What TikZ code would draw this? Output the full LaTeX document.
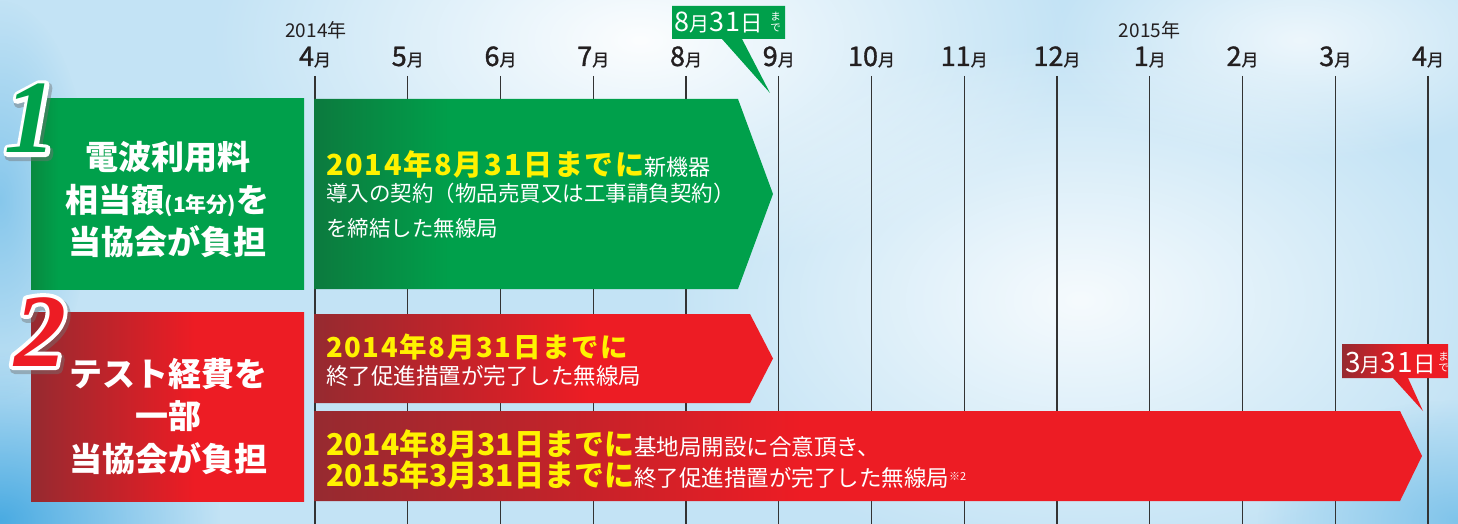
\documentclass[tikz,border=0pt]{standalone}
\usepackage{fontspec}
\setmainfont{Noto Sans CJK JP}
\newfontfamily\yfont[LetterSpace=6]{Noto Sans CJK JP}
\newfontfamily\mfont[FakeBold=1.2]{Noto Sans CJK JP}
\newfontfamily\cfont[LetterSpace=5]{Noto Sans CJK JP}
\newfontfamily\numfont{Liberation Serif}
\usetikzlibrary{fadings}
\tikzfading[name=myfade, inner color=transparent!0, outer color=transparent!100]
\definecolor{bgblue}{HTML}{C3E3F5}
\definecolor{deepblue}{HTML}{3DA5E0}
\definecolor{gmain}{HTML}{00A04B}
\definecolor{gdark}{HTML}{0C7A3E}
\definecolor{gbox}{HTML}{08893F}
\definecolor{rmain}{HTML}{ED1C24}
\definecolor{rdark}{HTML}{962A30}
\definecolor{ylw}{HTML}{FFF200}
\definecolor{lgray}{HTML}{333333}
\definecolor{ink}{HTML}{231F20}
\pgfdeclarehorizontalshading{gshade}{100bp}{color(0bp)=(gdark); color(25bp)=(gdark); color(40bp)=(gmain); color(100bp)=(gmain)}
\pgfdeclarehorizontalshading{gshadebox}{100bp}{color(0bp)=(gbox); color(25bp)=(gbox); color(30bp)=(gmain); color(100bp)=(gmain)}
\pgfdeclarehorizontalshading{rshadeA}{100bp}{color(0bp)=(rdark); color(25bp)=(rdark); color(55bp)=(rmain); color(100bp)=(rmain)}
\pgfdeclarehorizontalshading{rshadeB}{100bp}{color(0bp)=(rdark); color(25bp)=(rdark); color(47bp)=(rmain); color(100bp)=(rmain)}
\tikzset{
  mline/.style={draw=lgray, line width=1.3pt},
  monthlbl/.style={anchor=base, inner sep=0, text=ink},
  yearlbl/.style={anchor=base, inner sep=0, text=ink, font=\fontsize{19}{19}\selectfont},
  boxtext/.style={text=white, align=center, inner sep=0, font=\bfseries\fontsize{33}{42.5}\selectfont},
  bartext/.style={anchor=base west, inner sep=0, text=white},
  numtxt/.style={anchor=base, inner sep=0, font=\numfont\bfseries\itshape\fontsize{104}{104}\selectfont},
  mademade/.style={text=white, align=center, inner sep=0, font=\fontsize{10.5}{11}\selectfont},
}
\newcommand{\yel}[2]{{\yfont\bfseries\fontsize{#1}{#1}\selectfont\color{ylw}#2}}
\newcommand{\yelc}[2]{{\bfseries\fontsize{#1}{#1}\selectfont\color{ylw}#2}}
\newcommand{\wht}[2]{{\fontsize{#1}{#1}\selectfont #2}}
\newcommand{\cw}[2]{{\cfont\fontsize{#1}{#1}\selectfont #2}}
\newcommand{\outl}[3]{\special{pdf:literal direct q 2 Tr #1 w 1 j #2 RG}#3\special{pdf:literal direct Q}}
\begin{document}
\begin{tikzpicture}[x=1pt,y=-1pt]
\useasboundingbox (0,0) rectangle (1458,524);
% background
\fill[bgblue] (0,0) rectangle (1458,524);
\fill[white, path fading=myfade, opacity=0.95] (640,40) ellipse (430 and 230);
\fill[white, path fading=myfade, opacity=0.85] (1080,300) ellipse (420 and 260);
\fill[white, path fading=myfade, opacity=0.7] (1300,40) ellipse (250 and 120);
\fill[deepblue, path fading=myfade, opacity=0.9] (0,520) ellipse (220 and 170);
\fill[deepblue, path fading=myfade, opacity=0.45] (0,200) ellipse (90 and 200);
\fill[deepblue, path fading=myfade, opacity=0.5] (1458,520) ellipse (200 and 120);
% month lines and labels
\foreach \m [count=\i from 0] in {4,5,6,7,8,9,10,11,12,1,2,3,4}{
  \coordinate (top\i) at (315+92.75*\i,76);
  \coordinate (bot\i) at (315+92.75*\i,524);
  \draw[mline] (top\i) -- (bot\i);
  \node[monthlbl] (m\i) at (315+92.75*\i,66) {{\mfont\fontsize{27}{27}\selectfont\m}{\mfont\fontsize{17}{17}\selectfont 月}};
}
\node[yearlbl] (y2014) at (316,38) {2014年};
\node[yearlbl] (y2015) at (1149.5,38) {2015年};
% left boxes
\path[shade, shading=gshadebox] (31,99) rectangle (304,289);
\path[shade, shading=rshadeA] (31,312) rectangle (304,501);
% bars
\path[shade, shading=gshade] (314,99) -- (738,99) -- (773,194) -- (738,289) -- (314,289) -- cycle;
\path[shade, shading=rshadeA] (314,314) -- (750,314) -- (773,358.5) -- (750,403) -- (314,403) -- cycle;
\path[shade, shading=rshadeB] (314,411) -- (1400,411) -- (1422,456) -- (1400,501) -- (314,501) -- cycle;
% callouts
\fill[gmain] (672,6) -- (785,6) -- (785,39) -- (742,39) -- (770,93) -- (722,39) -- (672,39) -- cycle;
\node[bartext] (c1) at (674,32) {\cw{27}{8}\cw{20}{月}\cw{27}{31}\cw{22.5}{日}};
\node[mademade] (c1m) at (775.5,22) {ま\\で};
\path[shade, shading=rshadeA] (1342,344) -- (1448,344) -- (1448,378) -- (1408,378) -- (1423,411) -- (1393,378) -- (1342,378) -- cycle;
\node[bartext] (c2) at (1345,372) {\cw{28}{3}\cw{20}{月}\cw{28}{31}\cw{22.5}{日}};
\node[mademade] (c2m) at (1443.5,362) {ま\\で};
% box texts
\node[boxtext] (t1) at (167.5,200) {電波利用料\\相当額{\fontsize{21}{21}\selectfont(1年分)}を\\当協会が負担};
\node[boxtext] (t2) at (168,416.5) {テスト経費を\\一部\\当協会が負担};
% bar texts
\node[bartext] (b1a) at (326,175) {\yel{29}{2014年8月31日までに}\wht{22}{新機器}};
\node[bartext] (b1b) at (326,201) {\wht{21.5}{導入の契約（物品売買又は工事請負契約）}};
\node[bartext] (b1c) at (326,236) {\wht{21.5}{を締結した無線局}};
\node[bartext] (b2a) at (326,357) {\yel{27.5}{2014年8月31日までに}};
\node[bartext] (b2b) at (326,384) {\wht{22.5}{終了促進措置が完了した無線局}};
\node[bartext] (b3a) at (326,455) {\yelc{30}{2014年8月31日までに}\wht{22.5}{基地局開設に合意頂き、}};
\node[bartext] (b3b) at (326,486) {\yelc{30}{2015年3月31日までに}\wht{22.5}{終了促進措置が完了した無線局}\raisebox{6pt}{\wht{11}{※2}}};
% big numbers: shadow, white outline, colour
\node[numtxt, text=black!45, opacity=0.45] (n1s) at (33,156) {\outl{10}{0.45 0.45 0.45}{1}};
\node[numtxt, text=black!45, opacity=0.45] (n2s) at (42,369) {\outl{10}{0.45 0.45 0.45}{2}};
\node[numtxt, text=white] (n1o) at (31,153) {\outl{8}{1 1 1}{1}};
\node[numtxt, text=white] (n2o) at (40,366) {\outl{8}{1 1 1}{2}};
\node[numtxt, text=gmain] (n1) at (31,153) {1};
\node[numtxt, text=rmain] (n2) at (40,366) {2};
\end{tikzpicture}
\end{document}
